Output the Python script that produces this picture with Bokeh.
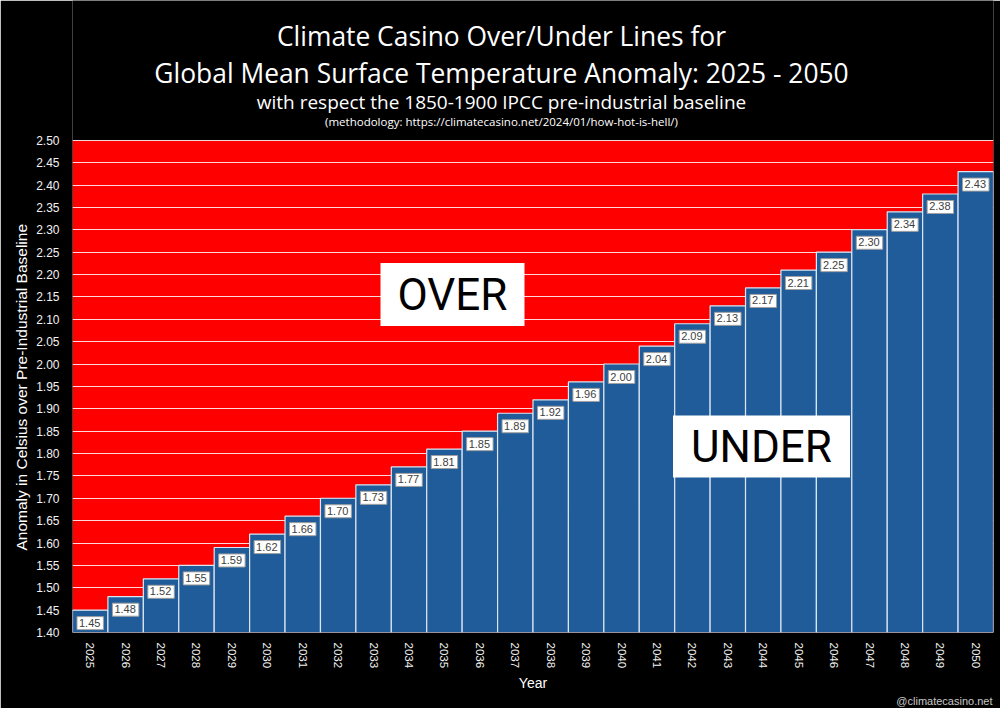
from bokeh.plotting import figure
from bokeh.models import Range1d, FixedTicker, PrintfTickFormatter, Label, Title, BoxAnnotation
from bokeh.core.properties import value
from bokeh.embed import file_html
from bokeh.resources import INLINE

years = [2025, 2026, 2027, 2028, 2029, 2030, 2031, 2032, 2033, 2034, 2035, 2036, 2037,
         2038, 2039, 2040, 2041, 2042, 2043, 2044, 2045, 2046, 2047, 2048, 2049, 2050]
anomaly = [1.45, 1.48, 1.52, 1.55, 1.59, 1.62, 1.66, 1.70, 1.73, 1.77, 1.81, 1.85, 1.89,
           1.92, 1.96, 2.00, 2.04, 2.09, 2.13, 2.17, 2.21, 2.25, 2.30, 2.34, 2.38, 2.43]
y_ticks = [1.40, 1.45, 1.50, 1.55, 1.60, 1.65, 1.70, 1.75, 1.80, 1.85, 1.90, 1.95, 2.00,
           2.05, 2.10, 2.15, 2.20, 2.25, 2.30, 2.35, 2.40, 2.45, 2.50]
bar_labels = ["%.2f" % v for v in anomaly]

title_lines = ["Climate Casino Over/Under Lines for",
               "Global Mean Surface Temperature Anomaly: 2025 - 2050"]
subtitle = "with respect the 1850-1900 IPCC pre-industrial baseline"
method_note = "(methodology: https://climatecasino.net/2024/01/how-hot-is-hell/)"
y_label = "Anomaly in Celsius over Pre-Industrial Baseline"
x_label = "Year"
credit = "@climatecasino.net"

FONT = "Liberation Sans"
TFONT = "Open Sans"
BFONT = "Roboto"

W, H = 1000, 708
FL, FR, FT, FB = 72, 993, 0, 633          # frame edges in canvas pixels
Y_LO, Y_HI, Y_HI_PX = 1.40, 2.50, 140      # value axis: 2.50 sits at pixel row 140
PX_PER_UNIT = (FB - Y_HI_PX) / (Y_HI - Y_LO)
X_LO, X_HI = years[0] - 0.5, years[-1] + 0.5
PX_PER_YEAR = (FR - FL) / (X_HI - X_LO)
y_top = Y_HI + (Y_HI_PX - FT) / PX_PER_UNIT


def xd(px):
    return X_LO + (px - FL) / PX_PER_YEAR


def yd(py):
    return Y_HI - (py - Y_HI_PX) / PX_PER_UNIT


p = figure(width=W, height=H, output_backend="svg", toolbar_location=None,
           x_range=Range1d(X_LO, X_HI), y_range=Range1d(Y_LO, y_top),
           min_border_left=FL, min_border_right=W - FR, min_border_top=FT,
           min_border_bottom=H - FB)
p.background_fill_color = "#000000"
p.border_fill_color = "#000000"
p.outline_line_color = None

# red "OVER" zone behind grid
p.add_layout(BoxAnnotation(bottom=Y_LO, top=Y_HI, fill_color="#ff0000", fill_alpha=1.0,
                           line_color=None, level="image"))

p.vbar(x=years, top=anomaly, bottom=Y_LO, width=1.0,
       fill_color="#1f5c99", line_color="#dce6f2", line_width=1.2)

p.text(x=years, y=anomaly, text=bar_labels, y_offset=13,
       text_align="center", text_baseline="middle", text_font=value(FONT),
       text_font_size="11px", text_color="#404040",
       background_fill_color="#ffffff", border_line_color="#a0a0a0", border_line_width=1,
       padding=(2, 3, 2, 3))

# grid
p.xgrid.grid_line_color = None
p.ygrid.grid_line_color = "#ffffff"
p.ygrid.grid_line_alpha = 0.85
p.ygrid.grid_line_width = 1

# axes
p.yaxis.ticker = FixedTicker(ticks=y_ticks)
p.yaxis.formatter = PrintfTickFormatter(format="%.2f")
p.xaxis.ticker = FixedTicker(ticks=years)
p.xaxis.major_label_overrides = {y: str(y) for y in years}
p.xaxis.major_label_orientation = "vertical"
for ax in (p.xaxis[0], p.yaxis[0]):
    ax.axis_line_color = None
    ax.major_tick_line_color = None
    ax.minor_tick_line_color = None
    ax.major_tick_out = 0
    ax.major_tick_in = 0
    ax.minor_tick_out = 0
    ax.minor_tick_in = 0
    ax.major_label_text_color = "#f2f2f2"
    ax.major_label_text_font = FONT
    ax.axis_label_text_color = "#ffffff"
    ax.axis_label_text_font = FONT
    ax.axis_label_text_font_size = "14px"
    ax.axis_label_text_font_style = "normal"
p.yaxis.major_label_text_font_size = "12px"
p.xaxis.major_label_text_font_size = "11.5px"
p.yaxis.major_label_standoff = 13
p.xaxis.major_label_standoff = 10
p.xaxis.axis_label = x_label
p.xaxis.axis_label_standoff = 4

# y-axis label, starting at pixel row 551 (82 px above the frame bottom)
p.add_layout(Title(text=y_label, align="left", offset=82, vertical_align="bottom",
                   standoff=7, text_font=FONT, text_font_size="15.5px",
                   text_font_style="normal", text_color="#ffffff"), "left")

# credit under the x axis, right aligned
p.add_layout(Title(text=credit, align="right", offset=1, vertical_align="top",
                   standoff=0, text_font=FONT, text_font_size="11px",
                   text_font_style="normal", text_color="#c8c8c8"), "below")

# OVER / UNDER boxes
p.rect(x=[xd(452)], y=[yd(294.5)], width=144, height=63, width_units="screen",
       height_units="screen", fill_color="#ffffff", line_color=None)
p.rect(x=[xd(761)], y=[yd(446.7)], width=177, height=62, width_units="screen",
       height_units="screen", fill_color="#ffffff", line_color=None)
p.add_layout(Label(x=xd(452), y=yd(295), text="OVER", text_align="center",
                   text_baseline="middle", text_font=BFONT, text_font_size="44px",
                   text_color="#000000"))
p.add_layout(Label(x=xd(761), y=yd(447), text="UNDER", text_align="center",
                   text_baseline="middle", text_font=BFONT, text_font_size="44px",
                   text_color="#000000"))

# titles (inside the black band at the top of the frame)
for t, base_px, fs in [(title_lines[0], 36, "26.4px"), (title_lines[1], 73, "26.4px"),
                       (subtitle, 102, "19px"), (method_note, 121, "11.5px")]:
    p.add_layout(Label(x=xd(501), y=yd(base_px), text=t, text_align="center",
                       text_baseline="alphabetic", text_font=TFONT,
                       text_font_size=fs, text_color="#ffffff"))

html = file_html(p, INLINE)
html = html.replace("<body>", '<body style="background:#000000">', 1)
open("out.html", "w").write(html)
